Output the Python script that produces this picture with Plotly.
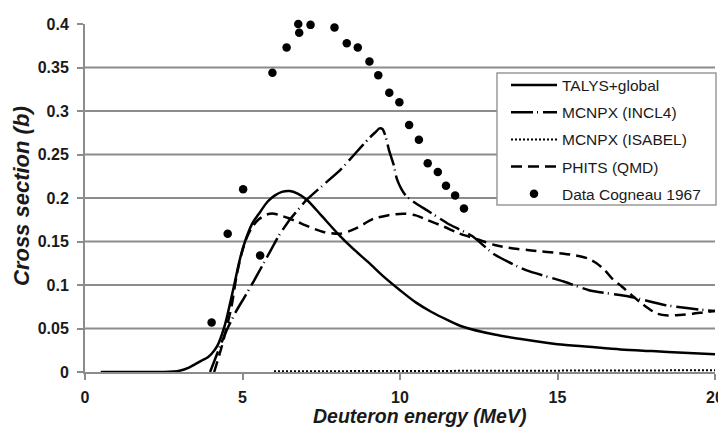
import plotly.graph_objects as go

# ---- data ----
talys_x = [0.5, 1, 2, 2.5, 3.0, 3.3, 3.5, 3.7, 3.9, 4.02, 4.2, 4.44, 4.6, 4.76, 4.92, 5.08, 5.3, 5.56, 5.8, 6.03,
           6.25, 6.5, 6.75, 7.04, 7.5, 8.0, 8.5, 9.0, 9.5, 10.0, 10.5, 11.0, 11.5, 12.0, 13.0, 14.0, 15.0, 16.0,
           17.0, 18.0, 19.0, 20.0]
talys_y = [0, 0, 0, 0, 0.0015, 0.005, 0.009, 0.013, 0.017, 0.021, 0.030, 0.054, 0.078, 0.104, 0.130, 0.150, 0.170,
           0.184, 0.196, 0.203, 0.207, 0.208, 0.205, 0.198, 0.180, 0.160, 0.142, 0.126, 0.109, 0.094, 0.080, 0.069,
           0.060, 0.052, 0.043, 0.037, 0.032, 0.029, 0.026, 0.024, 0.022, 0.0205]

incl4_x = [3.97, 4.1, 4.3, 4.55, 4.8, 5.08, 5.35, 5.61, 5.9, 6.14, 6.5, 7.04, 7.5, 8.1, 8.6, 9.0, 9.2, 9.35, 9.45,
           9.55, 9.65, 9.8, 9.9, 10.05, 10.2, 10.5, 10.85, 11.5, 12.3, 13.0, 14.0, 15.2, 16.0, 17.3, 18.4, 19.7, 20.0]
incl4_y = [0, 0.012, 0.031, 0.052, 0.070, 0.087, 0.104, 0.121, 0.140, 0.156, 0.175, 0.198, 0.213, 0.232, 0.252,
           0.268, 0.275, 0.280, 0.279, 0.270, 0.255, 0.238, 0.222, 0.210, 0.202, 0.194, 0.186, 0.171, 0.156, 0.135,
           0.117, 0.104, 0.094, 0.0866, 0.077, 0.071, 0.070]

isabel_x = [6, 8, 10, 12, 14, 16, 18, 20]
isabel_y = [0.0008, 0.001, 0.0012, 0.0013, 0.0015, 0.0016, 0.0018, 0.002]

phits_x = [4.1, 4.34, 4.5, 4.65, 4.81, 4.97, 5.13, 5.3, 5.5, 5.77, 6.0, 6.19, 6.45, 6.72, 7.1, 7.57, 8.1, 8.6, 9.15,
           9.6, 10.1, 10.5, 10.85, 11.4, 11.9, 12.5, 13.0, 13.6, 14.1, 14.66, 15.2, 15.71, 16.0, 16.24, 16.5, 16.77,
           17.05, 17.3, 17.7, 18.14, 18.5, 18.89, 19.3, 19.73, 20.0]
phits_y = [0, 0.029, 0.052, 0.075, 0.110, 0.136, 0.154, 0.166, 0.175, 0.181, 0.182, 0.180, 0.177, 0.173, 0.167,
           0.161, 0.159, 0.165, 0.176, 0.180, 0.182, 0.180, 0.175, 0.167, 0.159, 0.152, 0.146, 0.142, 0.140, 0.138,
           0.136, 0.133, 0.130, 0.125, 0.117, 0.106, 0.098, 0.090, 0.078, 0.0674, 0.065, 0.0655, 0.067, 0.069, 0.070]

data_x = [4.02, 4.53, 5.02, 5.56, 5.95, 6.40, 6.77, 6.80, 7.16, 7.54, 7.92, 8.31, 8.66, 9.03, 9.31, 9.66, 9.98,
          10.29, 10.60, 10.88, 11.20, 11.46, 11.75, 12.03]
data_y = [0.057, 0.159, 0.210, 0.134, 0.344, 0.373, 0.400, 0.390, 0.399, 0.401, 0.396, 0.378, 0.373, 0.357, 0.341,
          0.321, 0.310, 0.284, 0.267, 0.240, 0.230, 0.214, 0.203, 0.188]

x_ticks = [0, 5, 10, 15, 20]
y_ticks = [0, 0.05, 0.1, 0.15, 0.2, 0.25, 0.3, 0.35, 0.4]
y_tick_text = ["0", "0.05", "0.1", "0.15", "0.2", "0.25", "0.3", "0.35", "0.4"]
grid_values = [0.05, 0.1, 0.15, 0.2, 0.25, 0.3, 0.35]

FONT = "Liberation Sans, Arial, sans-serif"
GRAY = "#8c8c8c"
TXT = "#1a1a1a"

# page body has an 8px default margin: build the figure 8px smaller and offset pixel targets
OFF = 8
W, H = 726 - OFF, 428 - OFF
PL, PR, PT, PB = 85 - OFF, 715 - OFF, 24 - OFF, 372 - OFF   # plot area in figure pixels
PW, PH = PR - PL, PB - PT


def px(xpix):
    return (xpix - OFF - PL) / PW


def py(ypix):
    return (PB - (ypix - OFF)) / PH


fig = go.Figure()
fig.add_trace(go.Scatter(x=talys_x, y=talys_y, mode="lines", name="TALYS+global", legendgroup="a",
                         line=dict(color="black", width=2.5, shape="spline", smoothing=0.8)))
fig.add_trace(go.Scatter(x=incl4_x, y=incl4_y, mode="lines", name="MCNPX (INCL4)", legendgroup="b",
                         line=dict(color="black", width=2.5, dash="22px,4px,1px,5px", shape="spline",
                                   smoothing=0.5)))
fig.add_trace(go.Scatter(x=isabel_x, y=isabel_y, mode="lines", name="MCNPX (ISABEL)", legendgroup="c",
                         line=dict(color="black", width=2, dash="2px,2px")))
fig.add_trace(go.Scatter(x=phits_x, y=phits_y, mode="lines", name="PHITS (QMD)", legendgroup="d",
                         line=dict(color="black", width=2.5, dash="11px,6px", shape="spline", smoothing=0.8)))
fig.add_trace(go.Scatter(x=data_x, y=data_y, mode="markers", name="Data Cogneau 1967", legendgroup="e",
                         cliponaxis=False, marker=dict(color="black", size=8.5, symbol="circle")))

for g in grid_values:
    fig.add_shape(type="line", xref="x", yref="y", x0=0, x1=20, y0=g, y1=g,
                  line=dict(color=GRAY, width=2), layer="below")

# legend box
fig.add_shape(type="rect", xref="paper", yref="paper",
              x0=px(497), x1=px(716), y0=py(205), y1=py(73),
              line=dict(color="#999999", width=1.5), fillcolor="white", layer="above")

fig.update_layout(
    width=W, height=H,
    margin=dict(l=PL, r=W - PR, t=PT, b=H - PB, autoexpand=False),
    paper_bgcolor="white", plot_bgcolor="white",
    font=dict(family=FONT, color=TXT),
    showlegend=True,
    legend=dict(x=px(506), y=py(68.5), xanchor="left", yanchor="top",
                bgcolor="rgba(0,0,0,0)", borderwidth=0, itemwidth=46, tracegroupgap=4,
                traceorder="grouped", font=dict(family=FONT, size=15.5, color=TXT)),
    xaxis=dict(range=[0, 20], tickvals=x_ticks, showgrid=False, zeroline=False,
               showline=True, linecolor=GRAY, linewidth=2, ticks="outside", ticklen=6, tickcolor=GRAY,
               tickwidth=2, ticklabelstandoff=4,
               tickfont=dict(family=FONT, size=16, weight="bold", color=TXT)),
    yaxis=dict(range=[0, 0.4], tickvals=y_ticks, ticktext=y_tick_text, showgrid=False, zeroline=False,
               showline=True, linecolor=GRAY, linewidth=2, ticks="outside", ticklen=6, tickcolor=GRAY,
               tickwidth=2, ticklabelstandoff=5,
               tickfont=dict(family=FONT, size=16, weight="bold", color=TXT)),
    annotations=[
        dict(text="Deuteron energy (MeV)", xref="paper", yref="paper", x=px(419), y=py(416.5),
             xanchor="center", yanchor="middle", showarrow=False,
             font=dict(family=FONT, size=19.5, weight="bold", style="italic", color=TXT)),
        dict(text="Cross section (<i>b</i>)", xref="paper", yref="paper", x=px(22),
             y=py(196), xanchor="center", yanchor="middle", textangle=-90, showarrow=False,
             font=dict(family=FONT, size=22, weight="bold", style="italic", color=TXT)),
    ],
)

fig.write_html("out.html")
